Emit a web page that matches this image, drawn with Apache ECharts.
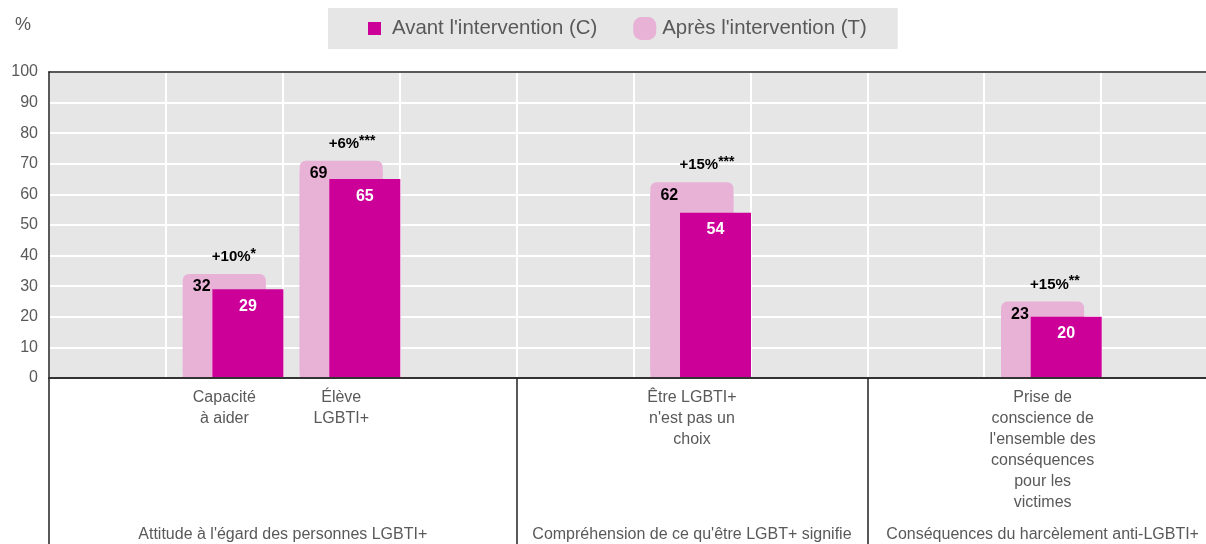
<!DOCTYPE html>
<html>
<head>
<meta charset="utf-8">
<script src="https://cdn.jsdelivr.net/npm/echarts@6/dist/echarts.min.js"></script>
<style>
  html, body { margin: 0; padding: 0; background: #fff; }
  #chart { width: 1206px; height: 544px; }
</style>
</head>
<body>
<div id="chart"></div>
<script>
// slots on the x axis, empty ones keep the spacing of the groups
const categories = ['', 'Capacité\nà aider', 'Élève\nLGBTI+', '', '', 'Être LGBTI+\nn\'est pas un\nchoix', '', '', 'Prise de\nconscience de\nl\'ensemble des\nconséquences\npour les\nvictimes', '']
const avant = [null, 29, 65, null, null, 54, null, null, 20, null]
const apres = [null, 32, 69, null, null, 62, null, null, 23, null]
const changes = ['', '+10%', '+6%', '', '', '+15%', '', '', '+15%', '']
const stars = ['', '*', '***', '', '', '***', '', '', '**', '']
const groups = ['Attitude à l\'égard des personnes LGBTI+', 'Compréhension de ce qu\'être LGBT+ signifie', 'Conséquences du harcèlement anti-LGBTI+']
const groupBounds = [0, 4, 7, 10]
const yTicks = { min: 0, max: 100, step: 10 }

const DARK = '#cc0099'
const LIGHT = '#e8b1d6'
const TXT = '#595959'
const FONT = '"Liberation Sans", Arial, sans-serif'

const groupMids = groups.map((g, i) => (groupBounds[i] + groupBounds[i + 1]) / 2)

const chart = echarts.init(document.getElementById('chart'))

chart.setOption({
  animation: false,
  textStyle: { fontFamily: FONT },
  legend: {
    left: 328,
    top: 8,
    padding: [9, 31, 9, 40],
    backgroundColor: '#e6e6e6',
    itemWidth: 13,
    itemHeight: 13,
    itemGap: 36,
    textStyle: { fontSize: 20.4, color: TXT, fontFamily: FONT, padding: [0, 0, 0, 6] },
    data: [
      { name: 'Avant l\'intervention (C)', icon: 'rect' },
      {
        name: 'Après l\'intervention (T)',
        icon: 'roundRect',
        itemStyle: { borderWidth: 10, borderColor: LIGHT, borderJoin: 'round', shadowColor: 'transparent', shadowOffsetY: 0 },
      },
    ],
  },
  grid: {
    show: true,
    left: 49,
    top: 72,
    width: 1169,
    bottom: 166,
    outerBoundsMode: 'none',
    backgroundColor: '#e6e6e6',
    borderWidth: 0,
  },
  xAxis: [
    {
      type: 'category',
      data: categories,
      axisLine: { show: false },
      axisTick: { show: false },
      splitLine: { show: true, interval: 0, lineStyle: { color: '#fff', width: 2 } },
      axisLabel: { interval: 0, color: TXT, fontSize: 16, lineHeight: 21, margin: 9, fontFamily: FONT },
    },
    {
      // group labels and separators below the plot
      type: 'value',
      min: groupBounds[0],
      max: groupBounds[groupBounds.length - 1],
      position: 'bottom',
      z: 4,
      axisLine: { show: true, lineStyle: { color: '#333', width: 2 } },
      splitLine: { show: false },
      axisTick: { show: true, customValues: groupBounds, length: 170, lineStyle: { color: '#222', width: 1.5 } },
      axisLabel: {
        customValues: groupMids,
        formatter: v => groups[groupMids.indexOf(v)] || '',
        color: TXT,
        fontSize: 16,
        margin: 149,
        fontFamily: FONT,
      },
    },
    {
      // top frame line of the plot
      type: 'value',
      min: 0,
      max: 1,
      position: 'top',
      z: 4,
      axisLine: { show: true, lineStyle: { color: '#222', width: 1.5 } },
      axisTick: { show: false },
      axisLabel: { show: false },
      splitLine: { show: false },
    },
  ],
  yAxis: {
    type: 'value',
    min: yTicks.min,
    max: yTicks.max,
    interval: yTicks.step,
    z: 1,
    name: '%',
    nameLocation: 'end',
    nameGap: 38,
    nameTextStyle: { fontSize: 18, color: TXT, align: 'right', padding: [0, 18, 0, 0], fontFamily: FONT },
    axisLine: { show: true, lineStyle: { color: '#222', width: 1.5 } },
    axisTick: { show: false },
    splitLine: { lineStyle: { color: '#fff', width: 2 } },
    axisLabel: { color: TXT, fontSize: 16, margin: 11, fontFamily: FONT },
  },
  series: [
    {
      // empty slot that pushes the pair of bars to the right
      name: '_',
      type: 'bar',
      barWidth: 49,
      data: [],
    },
    {
      name: 'Après l\'intervention (T)',
      type: 'bar',
      barWidth: 83,
      data: apres,
      // flat shadow lifts the rounded top a little, like the source's thick outline
      itemStyle: { color: LIGHT, borderRadius: [6, 6, 0, 0], shadowColor: LIGHT, shadowBlur: 0, shadowOffsetY: -6 },
      label: {
        show: true,
        position: [10, -33],
        formatter: p => `{c|${changes[p.dataIndex]}}{s|${stars[p.dataIndex]}}\n{v|${p.value}}`,
        rich: {
          c: { fontSize: 15, fontWeight: 'bold', color: '#000', lineHeight: 20, padding: [0, 0, 0, 19], fontFamily: FONT },
          s: { fontSize: 14, fontWeight: 'bold', color: '#000', lineHeight: 16, verticalAlign: 'top', fontFamily: FONT },
          v: { fontSize: 16, fontWeight: 'bold', color: '#000', lineHeight: 40, fontFamily: FONT },
        },
      },
    },
    {
      name: 'Avant l\'intervention (C)',
      type: 'bar',
      barWidth: 71,
      barGap: '-64.3%',
      data: avant,
      itemStyle: { color: DARK },
      label: {
        show: true,
        position: 'insideTop',
        distance: 9,
        color: '#fff',
        fontSize: 16,
        fontWeight: 'bold',
        fontFamily: FONT,
      },
    },
  ],
})
</script>
</body>
</html>
